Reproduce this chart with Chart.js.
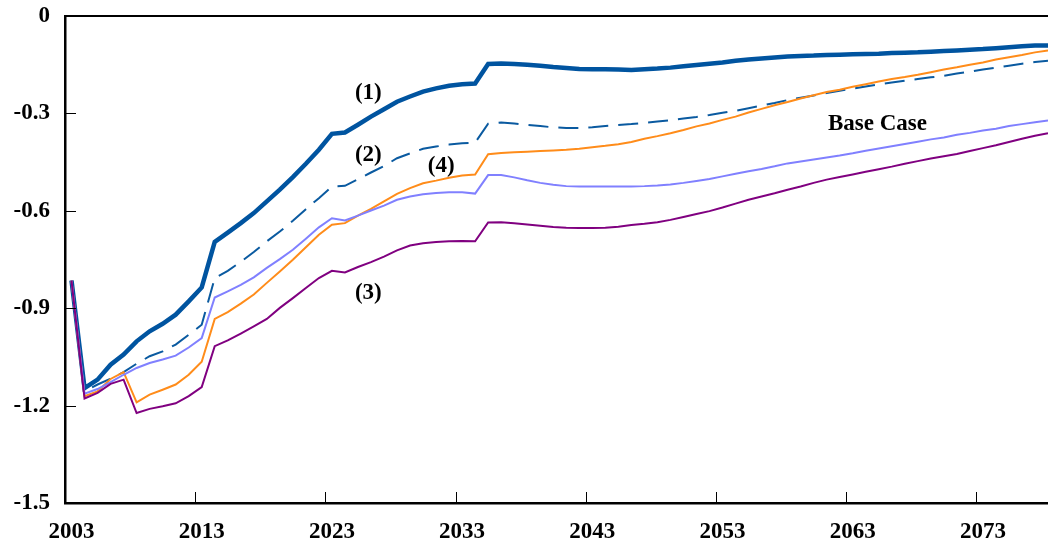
<!DOCTYPE html>
<html>
<head>
<meta charset="utf-8">
<script src="https://cdn.jsdelivr.net/npm/chart.js@4.4.1/dist/chart.umd.min.js"></script>
<style>
  html, body { margin: 0; padding: 0; background: #fff; }
  #wrap { width: 1048px; height: 545px; }
</style>
</head>
<body>
<div id="wrap"><canvas id="scenarioChart"></canvas></div>
<script>
// yearly values, 2003..2078
const years = [];
for (let y = 2003; y <= 2078; y++) years.push(y);

const case1 = [
  -0.815, -1.146, -1.120, -1.074, -1.043, -1.002, -0.971, -0.948, -0.920, -0.879,
  -0.836, -0.696, -0.667, -0.638, -0.607, -0.571, -0.535, -0.496, -0.455, -0.412,
  -0.363, -0.359, -0.335, -0.310, -0.287, -0.264, -0.248, -0.233, -0.223, -0.215,
  -0.210, -0.208, -0.148, -0.146, -0.148, -0.150, -0.153, -0.157, -0.160, -0.163,
  -0.164, -0.164, -0.165, -0.166, -0.164, -0.162, -0.159, -0.155, -0.151, -0.147,
  -0.143, -0.138, -0.134, -0.131, -0.128, -0.125, -0.123, -0.122, -0.120, -0.119,
  -0.118, -0.117, -0.116, -0.114, -0.113, -0.112, -0.110, -0.108, -0.106, -0.104,
  -0.102, -0.099, -0.096, -0.093, -0.091, -0.091
];
const case2 = [
  -0.815, -1.156, -1.135, -1.117, -1.097, -1.071, -1.048, -1.033, -1.012, -0.982,
  -0.951, -0.807, -0.785, -0.757, -0.727, -0.694, -0.664, -0.631, -0.595, -0.561,
  -0.525, -0.523, -0.503, -0.482, -0.462, -0.438, -0.423, -0.409, -0.402, -0.396,
  -0.392, -0.390, -0.332, -0.328, -0.331, -0.335, -0.339, -0.343, -0.345, -0.345,
  -0.343, -0.339, -0.336, -0.333, -0.329, -0.325, -0.321, -0.316, -0.311, -0.305,
  -0.298, -0.292, -0.284, -0.276, -0.268, -0.259, -0.252, -0.245, -0.237, -0.230,
  -0.224, -0.217, -0.211, -0.205, -0.199, -0.194, -0.189, -0.184, -0.177, -0.171,
  -0.165, -0.159, -0.153, -0.147, -0.142, -0.138
];
const case4 = [
  -0.815, -1.171, -1.156, -1.118, -1.097, -1.190, -1.166, -1.151, -1.135, -1.105,
  -1.065, -0.933, -0.912, -0.886, -0.858, -0.822, -0.787, -0.751, -0.712, -0.674,
  -0.643, -0.638, -0.615, -0.594, -0.571, -0.548, -0.530, -0.515, -0.507, -0.498,
  -0.491, -0.488, -0.426, -0.422, -0.420, -0.418, -0.416, -0.414, -0.412, -0.409,
  -0.404, -0.400, -0.395, -0.388, -0.378, -0.370, -0.361, -0.351, -0.340, -0.331,
  -0.320, -0.310, -0.297, -0.286, -0.275, -0.265, -0.254, -0.244, -0.234, -0.227,
  -0.218, -0.210, -0.202, -0.194, -0.188, -0.181, -0.173, -0.165, -0.158, -0.150,
  -0.143, -0.134, -0.127, -0.120, -0.112, -0.106
];
const baseCase = [
  -0.815, -1.163, -1.149, -1.128, -1.105, -1.084, -1.069, -1.058, -1.046, -1.021,
  -0.992, -0.867, -0.848, -0.828, -0.805, -0.776, -0.749, -0.720, -0.686, -0.651,
  -0.623, -0.630, -0.615, -0.599, -0.584, -0.566, -0.556, -0.549, -0.545, -0.543,
  -0.543, -0.547, -0.490, -0.490, -0.497, -0.506, -0.514, -0.520, -0.524, -0.525,
  -0.525, -0.525, -0.525, -0.525, -0.524, -0.522, -0.519, -0.514, -0.508, -0.502,
  -0.494, -0.486, -0.478, -0.471, -0.463, -0.454, -0.448, -0.442, -0.436, -0.430,
  -0.423, -0.415, -0.408, -0.401, -0.394, -0.387, -0.380, -0.374, -0.366, -0.360,
  -0.353, -0.347, -0.339, -0.333, -0.327, -0.322
];
const case3 = [
  -0.815, -1.178, -1.161, -1.133, -1.120, -1.223, -1.210, -1.202, -1.193, -1.171,
  -1.143, -1.017, -0.999, -0.978, -0.956, -0.933, -0.899, -0.869, -0.838, -0.807,
  -0.785, -0.790, -0.773, -0.758, -0.741, -0.722, -0.707, -0.700, -0.696, -0.694,
  -0.693, -0.694, -0.636, -0.635, -0.638, -0.642, -0.646, -0.650, -0.652, -0.653,
  -0.653, -0.652, -0.649, -0.644, -0.640, -0.635, -0.628, -0.619, -0.610, -0.601,
  -0.590, -0.578, -0.566, -0.556, -0.546, -0.535, -0.525, -0.514, -0.504, -0.496,
  -0.488, -0.480, -0.472, -0.464, -0.455, -0.447, -0.439, -0.432, -0.425, -0.416,
  -0.407, -0.398, -0.388, -0.378, -0.369, -0.361
];

const xTickYears = [2003, 2013, 2023, 2033, 2043, 2053, 2063, 2073];
const yTickValues = [0, -0.3, -0.6, -0.9, -1.2, -1.5];

// text notes placed in data units
const notes = [
  { text: '(1)', x: 2025.8, y: -0.237 },
  { text: '(2)', x: 2025.8, y: -0.428 },
  { text: '(4)', x: 2031.4, y: -0.462 },
  { text: '(3)', x: 2025.8, y: -0.852 },
  { text: 'Base Case', x: 2064.9, y: -0.332 }
];

const FONT = "'Liberation Serif', 'Times New Roman', serif";

const toPoints = arr => years.map((yr, i) => ({ x: yr, y: arr[i] }));

const series = (label, data, color, width, dash) => ({
  label,
  data: toPoints(data),
  borderColor: color,
  backgroundColor: color,
  borderWidth: width,
  borderDash: dash || [],
  pointRadius: 0,
  tension: 0,
  fill: false
});

// frame, inward tick marks and text notes
const framePlugin = {
  id: 'framePlugin',
  afterDraw(chart) {
    const { ctx, chartArea: a, scales: { x, y } } = chart;
    ctx.save();
    ctx.strokeStyle = '#000';
    ctx.lineWidth = 1;
    xTickYears.forEach(v => {
      // category boundary sits half a year before the label
      const px = Math.round(x.getPixelForValue(v - 0.5)) + 0.5;
      ctx.beginPath();
      ctx.moveTo(px, a.bottom);
      ctx.lineTo(px, a.bottom - 11);
      ctx.stroke();
    });
    yTickValues.forEach(v => {
      const py = Math.round(y.getPixelForValue(v)) + 0.5;
      ctx.beginPath();
      ctx.moveTo(a.left, py);
      ctx.lineTo(a.left + 11, py);
      ctx.stroke();
    });
    ctx.lineWidth = 2;
    ctx.beginPath();
    ctx.moveTo(a.left, a.top);
    ctx.lineTo(chart.width, a.top);
    ctx.stroke();

    ctx.fillStyle = '#000';
    ctx.font = 'bold 23px ' + FONT;
    ctx.textAlign = 'center';
    ctx.textBaseline = 'middle';
    notes.forEach(n => {
      ctx.fillText(n.text, x.getPixelForValue(n.x), y.getPixelForValue(n.y));
    });
    ctx.restore();
  }
};

new Chart(document.getElementById('scenarioChart'), {
  type: 'line',
  data: {
    datasets: [
      series('(3)', case3, '#800080', 2),
      series('Base Case', baseCase, '#8080ff', 2),
      series('(4)', case4, '#ff8c1a', 2),
      series('(2)', case2, '#0a5aa0', 2, [20, 10]),
      series('(1)', case1, '#0054a0', 4.5)
    ]
  },
  options: {
    responsive: true,
    maintainAspectRatio: false,
    animation: false,
    layout: { padding: { top: 16, right: 0, left: 0, bottom: 0 } },
    plugins: {
      legend: { display: false },
      tooltip: { enabled: false }
    },
    scales: {
      x: {
        type: 'linear',
        min: 2002.5,
        max: 2078,
        afterBuildTicks: scale => { scale.ticks = xTickYears.map(v => ({ value: v })); },
        afterFit: scale => {
          scale.height = 42;
          scale.paddingLeft = 0;
          scale.paddingRight = 0;
        },
        grid: { display: false, drawTicks: false },
        border: { display: true, color: '#000', width: 2.5 },
        ticks: {
          padding: 15,
          color: '#000',
          maxRotation: 0,
          autoSkip: false,
          font: { family: FONT, size: 23, weight: 'bold' },
          callback: v => String(v)
        }
      },
      y: {
        min: -1.5,
        max: 0,
        afterBuildTicks: scale => { scale.ticks = yTickValues.map(v => ({ value: v })); },
        afterFit: scale => {
          scale.width = 65;
          scale.paddingTop = 0;
          scale.paddingBottom = 0;
        },
        grid: { display: false, drawTicks: false },
        border: { display: true, color: '#000', width: 2.5 },
        ticks: {
          padding: 15,
          color: '#000',
          font: { family: FONT, size: 23, weight: 'bold' },
          callback: v => (v === 0 ? '0' : v.toFixed(1))
        }
      }
    }
  },
  plugins: [framePlugin]
});
</script>
</body>
</html>
